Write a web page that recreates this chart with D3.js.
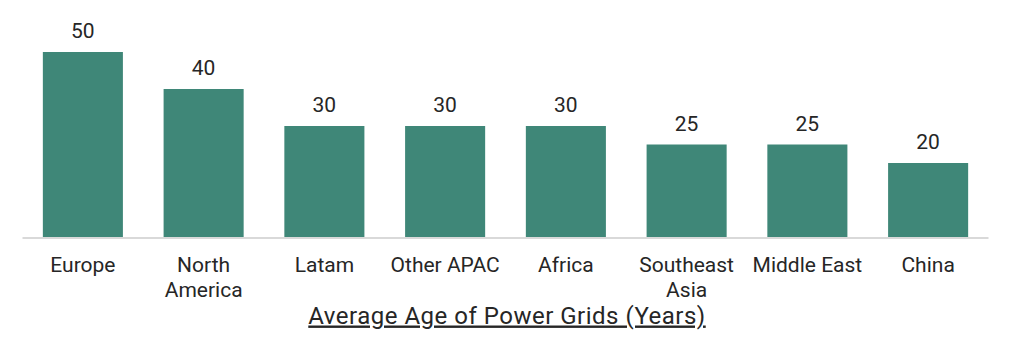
<!DOCTYPE html>
<html><head><meta charset="utf-8">
<script src="https://cdn.jsdelivr.net/npm/d3@7"></script>
<style>body{margin:0;background:#fff}svg{display:block;font-family:Roboto,sans-serif}</style>
</head><body><svg id="c" width="1011" height="346"></svg>
<script>
const categories = ["Europe","North America","Latam","Other APAC","Africa","Southeast Asia","Middle East","China"];
const categoryLines = [["Europe"],["North","America"],["Latam"],["Other APAC"],["Africa"],["Southeast","Asia"],["Middle East"],["China"]];
const values = [50,40,30,30,30,25,25,20];
const title = "Average Age of Power Grids (Years)";

const svg = d3.select("#c");
const baseY = 237, topY = 52;
const x = d3.scaleBand().domain(categories).range([22.5, 988.5]).paddingInner(0.337).paddingOuter(0.1685);
const y = d3.scaleLinear().domain([0,50]).range([baseY, topY]);

svg.selectAll("rect.bar").data(values).join("rect").attr("class","bar")
  .attr("x",(d,i)=>x(categories[i])).attr("width",x.bandwidth())
  .attr("y",d=>y(d)).attr("height",d=>baseY-y(d)).attr("fill","#3f8778");

svg.append("line").attr("x1",22.5).attr("x2",988.5).attr("y1",baseY+1).attr("y2",baseY+1)
  .attr("stroke","#d9d9d9").attr("stroke-width",2);

svg.selectAll("text.val").data(values).join("text").attr("class","val")
  .attr("x",(d,i)=>x(categories[i])+x.bandwidth()/2).attr("y",d=>y(d)-14)
  .attr("text-anchor","middle").attr("font-size",21).attr("fill","#262626").text(d=>d);

const lab = svg.selectAll("text.cat").data(categoryLines).join("text").attr("class","cat")
  .attr("text-anchor","middle").attr("font-size",21).attr("fill","#262626")
  .attr("transform",(d,i)=>`translate(${x(categories[i])+x.bandwidth()/2},271.5)`);
lab.selectAll("tspan").data(d=>d).join("tspan").attr("x",0).attr("dy",(d,i)=>i?25.5:0).text(d=>d);

svg.append("text").attr("x",507).attr("y",323.5).attr("text-anchor","middle")
  .attr("font-size",24).attr("letter-spacing",0.5).attr("fill","#262626")
  .attr("text-decoration","underline").text(title);
</script></body></html>
